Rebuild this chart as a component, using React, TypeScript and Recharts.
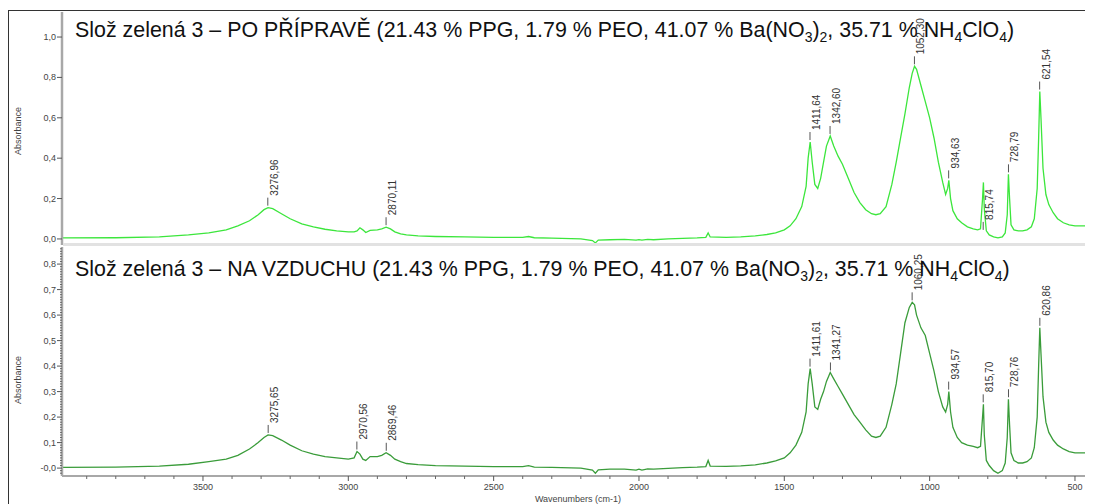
import React from 'react';
import { ComposedChart, Line, XAxis, YAxis, ReferenceDot } from 'recharts';

// wavenumber grid (cm-1), shared by both spectra
const wavenumbers = [
  3985, 3800, 3650, 3550, 3480, 3420, 3380, 3340, 3310, 3290, 3276, 3260, 3230, 3200, 3160, 3120, 3080, 3040,
  3000, 2980, 2970, 2960, 2950, 2940, 2925, 2900, 2885, 2870, 2855, 2840, 2820, 2800, 2760, 2700, 2600, 2500,
  2400, 2380, 2360, 2300, 2200, 2160, 2150, 2140, 2100, 2050, 2010, 2000, 1990, 1970, 1950, 1900, 1850, 1800,
  1770, 1762, 1755, 1700, 1650, 1600, 1560, 1530, 1500, 1480, 1460, 1440, 1425, 1418, 1411, 1404, 1395, 1385,
  1375, 1365, 1355, 1342, 1330, 1315, 1300, 1280, 1260, 1240, 1220, 1200, 1185, 1170, 1150, 1130, 1115, 1100,
  1085, 1070, 1060, 1052, 1045, 1030, 1015, 1000, 985, 970, 955, 945, 938, 934, 928, 920, 905, 890, 870, 850,
  835, 825, 818, 815, 812, 805, 795, 780, 765, 750, 740, 733, 729, 725, 720, 710, 695, 680, 665, 650, 640, 630,
  625, 621, 617, 610, 600, 590, 575, 560, 540, 520, 500, 470, 438,
];

// PO PŘÍPRAVĚ
const absAfterPrep = [
  0.005, 0.006, 0.01, 0.02, 0.03, 0.045, 0.065, 0.09, 0.12, 0.145, 0.155, 0.15, 0.125, 0.1, 0.075, 0.06, 0.048, 0.04,
  0.035, 0.035, 0.04, 0.055, 0.045, 0.032, 0.042, 0.045, 0.05, 0.058, 0.05, 0.035, 0.025, 0.02, 0.015, 0.012, 0.01, 0.008,
  0.008, 0.012, 0.006, 0.004, 0.0, -0.008, -0.02, -0.006, -0.004, -0.002, -0.006, -0.003, -0.006, -0.002, -0.004, 0.0, 0.003, 0.005,
  0.008, 0.03, 0.01, 0.008, 0.01, 0.015, 0.022, 0.03, 0.045, 0.065, 0.1, 0.16, 0.26, 0.4, 0.48, 0.38, 0.27, 0.25,
  0.3, 0.38, 0.46, 0.51, 0.46, 0.41, 0.37, 0.3, 0.23, 0.18, 0.145, 0.125, 0.12, 0.125, 0.16, 0.27, 0.38, 0.5,
  0.62, 0.75, 0.82, 0.855, 0.84, 0.76, 0.68, 0.6, 0.5, 0.38, 0.28, 0.22, 0.25, 0.29, 0.2, 0.14, 0.1, 0.08, 0.06, 0.05,
  0.045, 0.05, 0.2, 0.28, 0.15, 0.04, 0.02, 0.01, 0.005, 0.01, 0.03, 0.12, 0.32, 0.2, 0.07, 0.045, 0.04, 0.04, 0.045, 0.06, 0.1, 0.25,
  0.5, 0.73, 0.6, 0.35, 0.22, 0.17, 0.13, 0.1, 0.08, 0.07, 0.065, 0.065, 0.065,
];

// NA VZDUCHU
const absInAir = [
  0.003, 0.004, 0.008, 0.015, 0.025, 0.035, 0.05, 0.075, 0.1, 0.12, 0.13, 0.127, 0.11, 0.09, 0.068, 0.055, 0.045, 0.04,
  0.035, 0.04, 0.065, 0.055, 0.035, 0.03, 0.045, 0.045, 0.05, 0.06, 0.05, 0.035, 0.025, 0.018, 0.014, 0.01, 0.008, 0.006,
  0.006, 0.01, 0.004, 0.003, 0.0, -0.008, -0.02, -0.007, -0.004, -0.004, -0.008, -0.004, -0.008, -0.003, -0.004, -0.001, 0.002, 0.004,
  0.006, 0.03, 0.008, 0.007, 0.009, 0.013, 0.02, 0.028, 0.04, 0.06, 0.09, 0.14, 0.22, 0.33, 0.39, 0.33, 0.24, 0.23,
  0.27, 0.3, 0.34, 0.375, 0.35, 0.32, 0.29, 0.25, 0.21, 0.18, 0.15, 0.125, 0.12, 0.125, 0.16, 0.25, 0.33, 0.45,
  0.57, 0.63, 0.65, 0.64, 0.6, 0.55, 0.52, 0.45, 0.38, 0.3, 0.24, 0.22, 0.25, 0.3, 0.22, 0.16, 0.12, 0.1, 0.09, 0.085,
  0.08, 0.085, 0.2, 0.25, 0.13, 0.03, 0.01, -0.01, -0.02, -0.01, 0.02, 0.12, 0.27, 0.17, 0.06, 0.03, 0.02, 0.02, 0.025, 0.04, 0.08, 0.2,
  0.4, 0.55, 0.45, 0.28, 0.18, 0.14, 0.11, 0.09, 0.075, 0.065, 0.06, 0.06, 0.06,
];

const peaksAfterPrep = [3276.96, 2870.11, 1411.64, 1342.6, 1052.3, 934.63, 815.74, 728.79, 621.54];
const peakAbsAfterPrep = [0.155, 0.058, 0.48, 0.51, 0.855, 0.29, 0.035, 0.32, 0.73];
const peaksInAir = [3275.65, 2970.56, 2869.46, 1411.61, 1341.27, 1060.25, 934.57, 815.7, 728.76, 620.86];
const peakAbsInAir = [0.13, 0.065, 0.06, 0.39, 0.375, 0.65, 0.3, 0.25, 0.27, 0.55];

const xTicks = [3500, 3000, 2500, 2000, 1500, 1000, 500];
const yTicksTop = [0, 0.2, 0.4, 0.6, 0.8, 1.0];
const yTicksBottom = [0, 0.1, 0.2, 0.3, 0.4, 0.5, 0.6, 0.7, 0.8];

const rows = wavenumbers.map((wn, i) => ({ wn, a: absAfterPrep[i], b: absInAir[i] }));

const xMinor: number[] = [];
for (let w = 3900; w >= 500; w -= 100) xMinor.push(w);
const yMinorBottom: number[] = [];
for (let k = -2; k <= 86; k++) yMinorBottom.push(k / 100);

const FONT = '"Liberation Sans", Arial, sans-serif';
const W = 1085;
const X_DOMAIN: [number, number] = [438, 3985];

const isMajor = (v: number, list: number[]) => list.some((t) => Math.abs(t - v) < 1e-6);
const fmt = (v: number, neg: boolean) => (v === 0 && neg ? '-0,0' : v.toFixed(1).replace('.', ','));

const YTick = (props: any) => {
  const { x, y, payload, majors, neg } = props;
  const v = payload.value;
  if (!isMajor(v, majors)) {
    return <line x1={x - 2} x2={x} y1={y} y2={y} stroke="#666" strokeWidth={1} />;
  }
  return (
    <g>
      <line x1={x - 5} x2={x} y1={y} y2={y} stroke="#555" strokeWidth={1} />
      <text x={x - 6} y={y + 3} textAnchor="end" fontSize={9} fill="#444" fontFamily={FONT}>
        {fmt(v, neg)}
      </text>
    </g>
  );
};

const XTick = (props: any) => {
  const { x, y, payload } = props;
  const v = payload.value;
  if (!isMajor(v, xTicks)) {
    return <line x1={x} x2={x} y1={y} y2={y + 3} stroke="#666" strokeWidth={1} />;
  }
  return (
    <g>
      <line x1={x} x2={x} y1={y} y2={y + 5} stroke="#555" strokeWidth={1} />
      <text x={x} y={y + 14} textAnchor="middle" fontSize={9} fill="#444" fontFamily={FONT}>
        {v}
      </text>
    </g>
  );
};

const peakShape = (label: string) => (p: any) => (
  <g>
    <line x1={p.cx} x2={p.cx} y1={p.cy - 2} y2={p.cy - 10} stroke="#555" strokeWidth={1} />
    <text
      transform={`translate(${p.cx + 10},${p.cy - 12}) rotate(-90)`}
      fontSize={10}
      fill="#333"
      fontFamily={FONT}
    >
      {label}
    </text>
  </g>
);

const peakLabel = (wn: number) => wn.toFixed(2).replace('.', ',');

const Title = ({ y, middle }: { y: number; middle: string }) => (
  <text x={67} y={y} fontSize={21.4} fill="#111" fontFamily={FONT}>
    {`Slož zelená 3 – ${middle} (21.43 % PPG, 1.79 % PEO, 41.07 % Ba(NO`}
    <tspan fontSize={14} dy={5}>3</tspan>
    <tspan dy={-5}>)</tspan>
    <tspan fontSize={14} dy={5}>2</tspan>
    <tspan dy={-5}>, 35.71 % NH</tspan>
    <tspan fontSize={14} dy={5}>4</tspan>
    <tspan dy={-5}>ClO</tspan>
    <tspan fontSize={14} dy={5}>4</tspan>
    <tspan dy={-5}>)</tspan>
  </text>
);

export default function App() {
  return (
    <div style={{ position: 'relative', width: W, height: 496, overflow: 'hidden', background: '#fff' }}>
      <div style={{ position: 'absolute', left: 0, top: 0 }}>
        <ComposedChart width={W} height={238} data={rows} margin={{ top: 4, right: 0, bottom: 1, left: 0 }}>
          <XAxis dataKey="wn" type="number" domain={X_DOMAIN} reversed allowDataOverflow hide />
          <YAxis
            type="number"
            domain={[-0.03, 1.124]}
            allowDataOverflow
            width={54}
            ticks={yTicksTop}
            interval={0}
            tickSize={0}
            tickMargin={0}
            tickLine={false}
            axisLine={{ stroke: '#a8a8a8', strokeWidth: 2.5 }}
            tick={<YTick majors={yTicksTop} neg={false} />}
          />
          <Line type="linear" dataKey="a" stroke="#3ce63c" strokeWidth={1.3} dot={false} isAnimationActive={false} />
          {peaksAfterPrep.map((wn, i) => (
            <ReferenceDot key={wn} x={wn} y={peakAbsAfterPrep[i]} r={1} shape={peakShape(peakLabel(wn))} />
          ))}
        </ComposedChart>
      </div>
      <div style={{ position: 'absolute', left: 0, top: 238 }}>
        <ComposedChart width={W} height={258} data={rows} margin={{ top: 1, right: 0, bottom: 0, left: 0 }}>
          <XAxis
            dataKey="wn"
            type="number"
            domain={X_DOMAIN}
            reversed
            allowDataOverflow
            height={28}
            ticks={[...xMinor]}
            interval={0}
            tickSize={0}
            tickMargin={0}
            tickLine={false}
            axisLine={{ stroke: '#a8a8a8', strokeWidth: 2 }}
            tick={<XTick />}
          />
          <YAxis
            type="number"
            domain={[-0.031, 0.867]}
            allowDataOverflow
            width={54}
            ticks={yMinorBottom}
            interval={0}
            tickSize={0}
            tickMargin={0}
            tickLine={false}
            axisLine={{ stroke: '#a8a8a8', strokeWidth: 2.5 }}
            tick={<YTick majors={yTicksBottom} neg={true} />}
          />
          <Line type="linear" dataKey="b" stroke="#3a9c3a" strokeWidth={1.3} dot={false} isAnimationActive={false} />
          {peaksInAir.map((wn, i) => (
            <ReferenceDot key={wn} x={wn} y={peakAbsInAir[i]} r={1} shape={peakShape(peakLabel(wn))} />
          ))}
        </ComposedChart>
      </div>
      <svg
        width={W}
        height={496}
        style={{ position: 'absolute', left: 0, top: 0, pointerEvents: 'none' }}
      >
        <line x1={0.5} x2={0.5} y1={2} y2={496} stroke="#333" strokeWidth={1} />
        <line x1={0} x2={W} y1={2.5} y2={2.5} stroke="#333" strokeWidth={1} />
        <rect x={55} y={235} width={W - 55} height={3} fill="#e2e2e2" />
        <Title y={29} middle="PO PŘÍPRAVĚ" />
        <Title y={268} middle="NA VZDUCHU" />
        <text
          transform="translate(13,123) rotate(-90)"
          textAnchor="middle"
          fontSize={9}
          fill="#444"
          fontFamily={FONT}
        >
          Absorbance
        </text>
        <text
          transform="translate(13,372) rotate(-90)"
          textAnchor="middle"
          fontSize={9}
          fill="#444"
          fontFamily={FONT}
        >
          Absorbance
        </text>
        <text x={570} y={494} textAnchor="middle" fontSize={9} fill="#444" fontFamily={FONT}>
          Wavenumbers (cm-1)
        </text>
      </svg>
    </div>
  );
}
